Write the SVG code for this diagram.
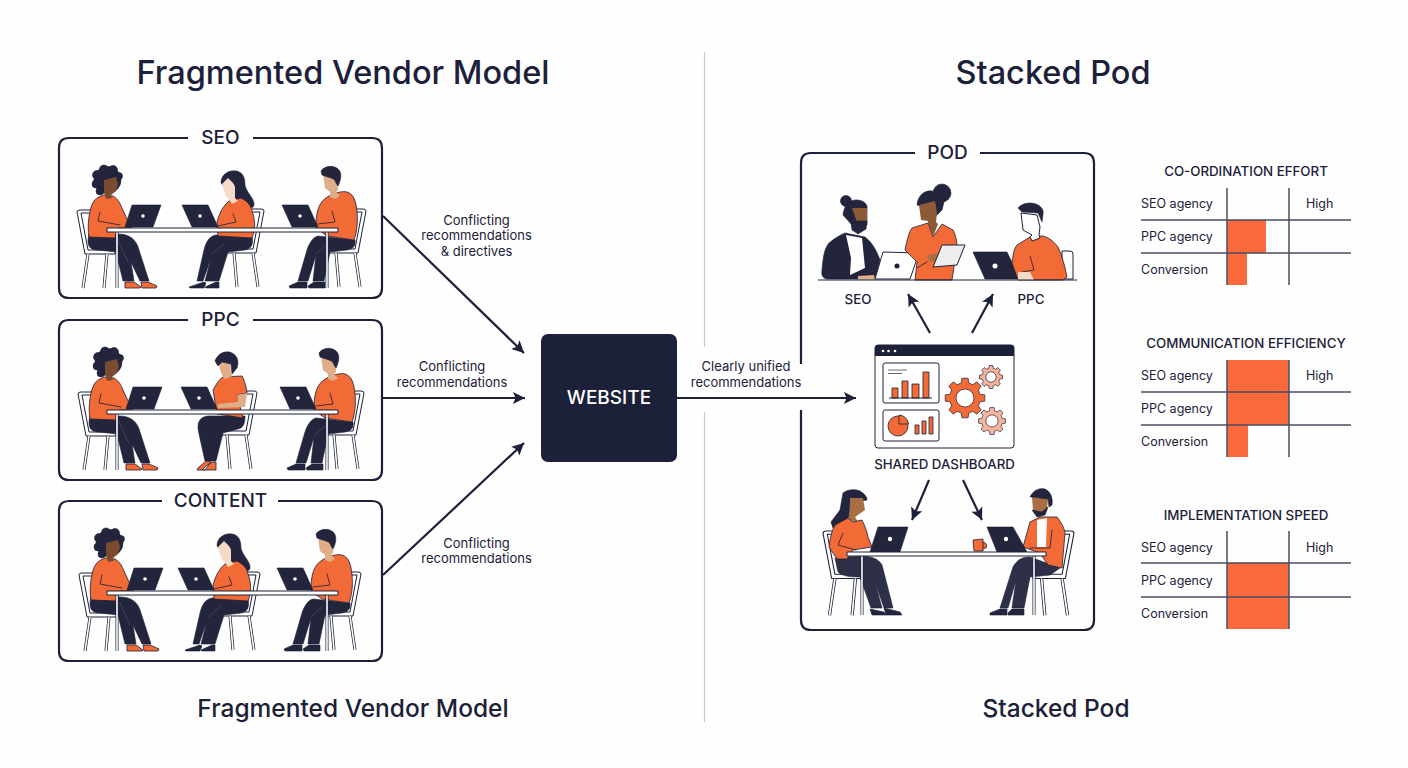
<svg xmlns="http://www.w3.org/2000/svg" width="1408" height="768" viewBox="0 0 1408 768">
<style>
text{font-family:"Inter","Liberation Sans",sans-serif;fill:#1c2038}
.t1{font-size:32.500px;font-weight:500;text-anchor:middle}
.t2{font-size:24.500px;font-weight:500;text-anchor:middle}
.pl{font-size:19px;font-weight:500;text-anchor:middle}
.cl{font-size:13px;text-anchor:middle}
.sl{font-size:13.300px;font-weight:500;text-anchor:middle}
.ct{font-size:13.300px;font-weight:500;text-anchor:middle}
.rl{font-size:12.500px}
.box{fill:none;stroke:#1c2038;stroke-width:2.200;stroke-linejoin:round}
.conn{fill:none;stroke:#1c2038;stroke-width:2.200}
.o{fill:#f26a35;stroke:#1c2038;stroke-width:.8;stroke-linejoin:round}
.d{fill:#22253c;stroke:#1c2038;stroke-width:.6;stroke-linejoin:round}
.w{fill:#fff;stroke:#1c2038;stroke-width:1;stroke-linejoin:round}
.ln{fill:none;stroke:#1c2038;stroke-width:.8;stroke-linecap:round;stroke-linejoin:round}
.sep{fill:none;stroke:#4c4f66;stroke-width:.7;stroke-linecap:round}
.brown{fill:#7b4b2f}
.mid{fill:#a86f45}
.dark{fill:#8d5a37}
.tan{fill:#dfae88}
.pale{fill:#f6dac8}
.leg{stroke:#1c2038;stroke-width:3;fill:none}
.legi{stroke:#fff;stroke-width:1.600;fill:none}
.grid{stroke:#4a4d60;stroke-width:1.500;fill:none}
.bar{fill:#fb6a3c}
</style>
<defs>
<marker id="ah" viewBox="0 0 14 14" refX="13" refY="7" markerWidth="14" markerHeight="14" markerUnits="userSpaceOnUse" orient="auto"><path d="M1,1 L13,7 L1,13 L3.500,7Z" fill="#1c2038"/></marker>
<g id="chair">
<path class="w" d="M0,2 Q0,0 3,0 L14,0 L14,3 L4,3 L11,40 L38,40 L38,44 L8,44Z"/>
<path class="leg" d="M11,44 L6,78 M30,44 L27,78"/><path class="legi" d="M11,44 L6,78 M30,44 L27,78"/>
</g>
<g id="laptopR"><path class="d" d="M7,0 L36,0 L28,22 L0,22Z"/><circle cx="18" cy="11" r="1.800" fill="#fff"/></g>
<g id="laptopL"><path class="d" d="M0,0 L26,0 L36,22 L10,22Z"/><circle cx="18" cy="11" r="1.800" fill="#fff"/></g>
<g id="table"><path class="leg" d="M117,232 V288 M327,232 V288"/><path class="legi" d="M117,232 V288 M327,232 V288"/><rect class="w" x="107" y="228" width="231" height="4"/></g>
<g id="personA">
<use href="#chair" transform="translate(77,210)"/>
<path class="d" d="M89,234 C86,246 90,250 98,250 L116,252 L123,281 L134,281 L131,262 L140,281 L149,281 L139,250 C136,238 128,234 118,234Z"/>
<path class="sep" d="M118,240 L128,262"/>
<path class="o" d="M125,282 L134,282 L141,287 L140,288 L125,288Z M141,282 L148,282 L157,286 L156,288 L142,288Z"/>
<path class="o" d="M89,237 C87,226 89,208 94,201 C97,197 101,196 104,195 L113,196 C118,199 120,203 122,208 L127,219 L133,224 L131,228 L118,228 L115,238Z"/>
<path class="ln" d="M100,212 L98,221 L120,225"/>
<circle class="d" cx="107.500" cy="180" r="13.500"/><circle class="d" cx="97" cy="175" r="4.500"/><circle class="d" cx="104" cy="169.500" r="4.500"/><circle class="d" cx="113" cy="170" r="4.500"/><circle class="d" cx="119" cy="176" r="3.500"/><circle class="d" cx="96" cy="184" r="4"/><circle class="d" cx="100" cy="191" r="4"/>
<path class="brown" d="M104,180 L116,177 L118,184 L116,191 L111,195 L112,198 L106,199 L104,192Z"/>
<use href="#laptopR" transform="translate(125,205)"/>
</g>
<g id="personB">
<use href="#chair" transform="translate(264,209) scale(-1,1)"/>
<path class="d" d="M216,235 L252,236 C254,246 250,249 245,250 L228,252 L219,281 L205,281 L211,258 L203,281 L197,281 L204,250 C206,241 210,236 216,235Z"/>
<path class="sep" d="M224,244 L212,254"/>
<path class="d" d="M204,282 L189,287 L190,288 L204,288 L206,283Z M216,282 L205,287 L206,288 L219,288 L219,282Z"/>
<path class="d" d="M221,183 C221,175 228,170 236,171 C243,172 245,178 245,185 C246,192 254,198 254,204 C254,209 250,208 247,206 C243,201 238,199 234,199Z"/>
<path class="o" d="M217,222 C219,215 222,207 229,201 L241,198 C247,201 251,205 252,211 C255,219 256,228 252,238 L218,236Z"/>
<path class="ln" d="M233,214 L236,222 L218,226"/>
<path class="pale" d="M222,184 L228,178 C232,182 235,184 235,188 L235,198 L238,201 L232,204 L229,199 C226,198 224,192 222,184Z"/>
<use href="#laptopL" transform="translate(182,205)"/>
</g>
<g id="personC">
<use href="#chair" transform="translate(366,209) scale(-1,1)"/>
<path class="d" d="M318,236 L355,240 C356,247 352,249 347,250 L330,252 L324,281 L313,281 L316,255 L308,281 L298,281 L307,250 C310,241 314,237 318,236Z"/>
<path class="sep" d="M327,244 L316,254"/>
<path class="d" d="M298,282 L289,286 L290,288 L307,288 L307,282Z M314,282 L308,286 L309,288 L325,288 L325,282Z"/>
<path class="o" d="M316,222 C317,208 320,200 331,195 C338,192 343,191 347,192 C354,194 356,202 357,212 C358,222 357,232 354,240 L327,236 L316,228Z"/>
<path class="ln" d="M332,211 L335,222 L318,224"/>
<path class="tan" d="M323,174 L336,178 L338,184 L338,190 L336,192 L340,196 L335,199 L330,197 L330,192 L325,188Z"/>
<path class="d" d="M321,171 C325,165 335,165 339,170 C342,174 341,180 338,186 L336,183 C335,178 330,178 325,176 L322,175Z"/>
<use href="#laptopL" transform="translate(282,205)"/>
</g>
<path id="gear" fill-rule="evenodd" d="M15.040,-3.750 L19.750,-3.130 L19.750,3.130 L15.040,3.750 L13.290,7.980 L16.180,11.750 L11.750,16.180 L7.980,13.290 L3.750,15.040 L3.130,19.750 L-3.130,19.750 L-3.750,15.040 L-7.980,13.290 L-11.750,16.180 L-16.180,11.750 L-13.290,7.980 L-15.040,3.750 L-19.750,3.130 L-19.750,-3.130 L-15.040,-3.750 L-13.290,-7.980 L-16.180,-11.750 L-11.750,-16.180 L-7.980,-13.290 L-3.750,-15.040 L-3.130,-19.750 L3.130,-19.750 L3.750,-15.040 L7.980,-13.290 L11.750,-16.180 L16.180,-11.750 L13.290,-7.980Z M9,0 A9,9 0 1 0 -9,0 A9,9 0 1 0 9,0Z"/>
</defs>
<rect width="1408" height="768" fill="#fefefe"/>
<g id="titles">
<text class="t1" x="343" y="84">Fragmented Vendor Model</text>
<text class="t1" x="1053" y="84">Stacked Pod</text>
<text class="t2" x="353" y="717">Fragmented Vendor Model</text>
<text class="t2" x="1056" y="717">Stacked Pod</text>
</g>
<g id="divider"><path d="M704.500,52 V347 M704.500,412 V722" stroke="#c9cace" stroke-width="1.200" fill="none"/></g>
<g id="panel-seo">
<path class="box" d="M188,138 H69 Q59,138 59,148 V288 Q59,298 69,298 H372 Q382,298 382,288 V148 Q382,138 372,138 H253"/>
<text class="pl" x="220.500" y="144">SEO</text>
<use href="#personA"/><use href="#personB"/><use href="#personC"/><use href="#table"/>
</g>
<g id="panel-ppc">
<path class="box" d="M188,320 H69 Q59,320 59,330 V470 Q59,480 69,480 H372 Q382,480 382,470 V330 Q382,320 372,320 H253"/>
<text class="pl" x="220.500" y="326">PPC</text>
<use href="#personA" transform="translate(1,182)"/>
<use href="#chair" transform="translate(257,391) scale(-1,1)"/>
<path class="d" d="M245,416 C245,424 243,428 238,429 L223,433 L216,461 L205,461 L199,434 C196,422 200,417 208,416Z"/>
<path class="o" d="M206,461 L198,468 L197,470 L205,470 L211,462Z M212,462 L216,462 L216,470 L202,470 L206,466Z"/>
<path class="o" d="M213,390 C216,385 219,379 223,377 L242,376 C245,381 246,387 247,393 L237,395 L243,418 L217,414Z"/>
<path class="tan" d="M237,395 L247,393 L245,407 L218,408 L218,404 L238,402Z"/>
<path class="tan" d="M219,362 L230,360 L231,374 L233,376 L225,379 L223,377 L220,370Z"/>
<path class="d" d="M215,361 C218,353 226,350 232,353 C238,356 239,362 237,368 L232,374 L231,364 L222,362 L218,366Z"/>
<use href="#laptopL" transform="translate(181,387)"/>
<use href="#personC" transform="translate(-2,182)"/>
<use href="#table" transform="translate(0,182)"/>
</g>
<g id="panel-content">
<path class="box" d="M162,501 H69 Q59,501 59,511 V651 Q59,661 69,661 H372 Q382,661 382,651 V511 Q382,501 372,501 H278"/>
<text class="pl" x="220.500" y="507">CONTENT</text>
<use href="#personA" transform="translate(2,363)"/>
<use href="#personB" transform="translate(-4,363)"/>
<use href="#personC" transform="translate(-5,363)"/>
<use href="#table" transform="translate(0,363)"/>
</g>
<g id="connectors">
<path class="conn" marker-end="url(#ah)" d="M383,216 L524,353"/>
<path class="conn" marker-end="url(#ah)" d="M383,398 L525,398"/>
<path class="conn" marker-end="url(#ah)" d="M383,575 L524,443"/>
<path class="conn" marker-end="url(#ah)" d="M677,398 L856,398"/>
<path class="conn" marker-end="url(#ah)" d="M930,333 L908,294"/>
<path class="conn" marker-end="url(#ah)" d="M972,333 L993,294"/>
<path class="conn" marker-end="url(#ah)" d="M929,480 L912,520"/>
<path class="conn" marker-end="url(#ah)" d="M963,480 L982,520"/>
</g>
<g id="connector-labels">
<text class="cl" x="476.500" y="224.500">Conflicting</text><text class="cl" x="476.500" y="240">recommendations</text><text class="cl" x="476.500" y="255.500">&amp; directives</text>
<text class="cl" x="452" y="371">Conflicting</text><text class="cl" x="452" y="386.500">recommendations</text>
<text class="cl" x="476.500" y="547.500">Conflicting</text><text class="cl" x="476.500" y="563">recommendations</text>
<text class="cl" x="746" y="371">Clearly unified</text><text class="cl" x="746" y="386.500">recommendations</text>
</g>
<g id="website">
<rect x="541" y="334" width="136" height="128" rx="7" fill="#1c2038"/>
<text x="609" y="404" text-anchor="middle" font-size="19" font-weight="500" style="fill:#fff">WEBSITE</text>
</g>
<g id="pod">
<path class="box" d="M915,153 H811 Q801,153 801,163 V364 M801,410 V620 Q801,630 811,630 H1084 Q1094,630 1094,620 V163 Q1094,153 1084,153 H980"/>
<text class="pl" x="947.500" y="159">POD</text>
</g>
<g id="pod-top-team">
<path class="w" d="M1062,251 L1070,251 Q1073,251 1073,254 V279 H1062Z"/>
<circle class="d" cx="846" cy="201" r="5.500"/>
<path class="d" d="M843,215 C844,205 850,199 858,200 C865,201 868,205 867,210 L867,225 L852,225Z"/>
<path class="dark" d="M852,208 L867,208 L867,222 L857,222Z"/>
<path class="d" d="M850,216 L855,221 L867,221 L866,229 L858,234 L852,230Z"/>
<path class="d" d="M822,270 C823,258 824,249 829,243 C835,238 840,235 845,233 L865,237 C873,243 877,252 880,260 L875,279 L828,279 C823,279 821,275 822,270Z"/>
<path d="M846,235 L862,238 L865,268 L850,275 L851,258Z" fill="#fff"/>
<path class="tan" d="M858,276 L874,275 L875,279 L858,279Z"/>
<path class="w" d="M883,252 L919,253 L910,279 L875,279Z"/>
<circle cx="897" cy="266" r="2.500" fill="#1c2038"/>
<circle class="d" cx="942" cy="193" r="9"/>
<path class="d" d="M917,205 C918,195 925,190 932,191 L945,198 L942,210 L936,216 L935,203 L921,206Z"/>
<path class="o" d="M905,250 C907,240 909,232 912,228 L928,223 L933,237 L942,224 L953,230 C956,236 957,241 957,247 L952,280 L915,280 L917,262Z"/>
<path class="dark" d="M919,205 L935,201 L937,213 L936,222 L938,224 L933,237 L928,223 L928,221 L921,220Z"/>
<path class="ln" d="M917,268 L927,262"/>
<path class="mid" d="M927,256 L941,252 L943,259 L930,262Z"/>
<path class="w" d="M942,245 L965,245 L957,265 L933,267Z" style="fill:#eceded"/>
<path class="d" d="M973,252 L1007,252 L1020,279 L985,279Z"/>
<circle cx="995" cy="266" r="2.500" fill="#fff"/>
<path class="o" d="M1012,263 C1013,254 1014,249 1017,245 L1030,237 L1043,236 C1050,238 1055,243 1058,247 C1062,256 1065,266 1067,277 L1063,280 L1018,280Z"/>
<path class="ln" d="M1030,256 L1034,270 L1022,272"/>
<path class="w" d="M1021,213 L1037,215 L1040,227 L1039,235 L1040,238 L1032,241 L1030,237 L1032,235 L1023,230Z"/>
<path class="d" d="M1018,208 C1022,203 1030,202 1036,204 C1041,206 1044,210 1043,214 L1042,222 L1038,213 L1022,212Z"/>
<path class="pale" d="M1018,272 L1030,272 L1034,280 L1018,280Z"/>
<path d="M818,280 H1077" stroke="#1c2038" stroke-width="1.200" fill="none"/>
<text class="sl" x="858" y="304">SEO</text>
<text class="sl" x="1031" y="304">PPC</text>
</g>
<g id="shared-dashboard">
<rect class="w" x="875" y="345" width="139" height="103" rx="3"/>
<path d="M875,356 V348 Q875,345 878,345 H1011 Q1014,345 1014,348 V356Z" fill="#1c2038"/>
<circle cx="883" cy="351" r="1.300" fill="#fff"/><circle cx="888.500" cy="351" r="1.300" fill="#fff"/><circle cx="895" cy="351" r="1.300" fill="#fff"/>
<rect class="w" x="883" y="363" width="56" height="40" rx="2"/>
<path d="M888,370 H907 M888,373.500 H902" stroke="#6a6d7c" stroke-width="1" fill="none"/>
<g class="o"><rect x="892" y="388" width="6" height="10"/><rect x="902" y="381" width="6" height="17"/><rect x="912" y="384" width="7" height="14"/><rect x="923" y="372" width="6" height="26"/></g>
<path d="M889,398 H932" stroke="#1c2038" fill="none"/>
<rect class="w" x="883" y="410" width="56" height="31" rx="2"/>
<circle class="o" cx="898" cy="426" r="10"/>
<path class="o" d="M899,415 A10,10 0 0 1 908.500,424 L899,424Z"/>
<g class="o"><rect x="915" y="425" width="4" height="9"/><rect x="922" y="421" width="4" height="13"/><rect x="929" y="417" width="4" height="17"/></g>
<use href="#gear" transform="translate(965,398)" fill="#f26a35" stroke="#1c2038" stroke-width=".7"/>
<use href="#gear" transform="translate(991,377) scale(.58)" fill="#f7b49a" stroke="#1c2038" stroke-width="1.200"/>
<use href="#gear" transform="translate(992,421) scale(.68)" fill="#f7b49a" stroke="#1c2038" stroke-width="1"/>
<text class="sl" x="944.500" y="469">SHARED DASHBOARD</text>
</g>
<g id="pod-bottom-team">
<use href="#chair" transform="translate(823,531) scale(1.080)"/>
<use href="#chair" transform="translate(1074,531) scale(-1.080,1.080)"/>
<path class="d" d="M835,558 L838,572 C842,576 850,577 860,577 L871,608 L882,608 L875,582 L884,608 L893,608 L882,565 C878,558 870,556 860,556Z" style="fill:#2d3047"/>
<path class="d" d="M870,609 L884,612 L886,615 L872,615Z M884,608 L900,612 L902,615 L886,615Z"/>
<path class="d" d="M843,493 C848,489 855,489 860,491 C865,494 867,497 867,500 L850,503 L849,517 L833,528 L831,522 L840,510Z"/>
<path class="mid" d="M850,498 L863,498 L865,510 L855,517 L858,522 L848,520 L850,510Z"/>
<path class="o" d="M829,547 C830,538 832,530 835,525 L848,518 L853,522 L862,520 C865,526 867,532 868,537 L872,547 L853,550 L847,559 L837,559Z"/>
<path class="ln" d="M843,533 L838,545 L856,550"/>
<path class="d" d="M878,527 L908,527 L900,552 L870,552Z"/>
<circle cx="890" cy="539" r="2.200" fill="#fff"/>
<path class="o" d="M973,540 L983,539 L983,551 L974,551Z M983,542 Q988,543 986,548 L983,549"/>
<path class="d" d="M1060,568 L1050,575 L1030,577 L1024,608 L1012,608 L1016,580 L1008,608 L1000,608 L1013,567 C1018,558 1024,557 1030,557Z" style="fill:#2d3047"/>
<path class="d" d="M1000,609 L990,613 L990,615 L1007,615 L1007,609Z M1012,609 L1008,613 L1008,615 L1024,615 L1024,609Z"/>
<path class="o" d="M1023,547 L1030,522 L1040,517 L1057,517 C1061,522 1064,527 1065,533 L1062,568 L1048,565 L1040,553Z"/>
<path d="M1037,520 L1047,518 L1046,547 L1037,547Z" fill="#fff"/>
<path class="ln" d="M1052,530 L1050,548 L1030,548"/>
<path class="mid" d="M1032,497 L1048,498 L1047,510 L1040,517 L1033,510Z"/>
<path class="d" d="M1032,510 L1042,512 L1048,507 L1045,515 L1037,517Z"/>
<path class="d" d="M1030,497 C1034,489 1040,488 1045,489 C1051,492 1053,498 1052,505 L1049,507 L1048,499 L1032,497Z"/>
<path class="d" d="M987,527 L1013,527 L1027,552 L997,552Z"/>
<circle cx="1006" cy="539" r="2.200" fill="#fff"/>
<path class="leg" d="M862,556 V615 M1034,556 V615"/><path class="legi" d="M862,556 V615 M1034,556 V615"/>
<rect class="w" x="847" y="552" width="199" height="4"/>
</g>
<g id="chart-coordination">
<rect class="bar" x="1227" y="220" width="39" height="33"/><rect class="bar" x="1227" y="253" width="20" height="32"/>
<path class="grid" d="M1227,188 V285 M1289,188 V285 M1141,220 H1351 M1141,253 H1351"/>
<text class="ct" x="1246" y="176">CO-ORDINATION EFFORT</text>
<text class="rl" x="1141" y="208">SEO agency</text><text class="rl" x="1141" y="241">PPC agency</text><text class="rl" x="1141" y="274">Conversion</text><text class="rl" x="1306" y="208">High</text>
</g>
<g id="chart-communication">
<rect class="bar" x="1227" y="360" width="62" height="65"/><rect class="bar" x="1227" y="425" width="21" height="32"/>
<path class="grid" d="M1227,360 V457 M1289,360 V457 M1141,392 H1351 M1141,425 H1351"/>
<text class="ct" x="1246" y="348">COMMUNICATION EFFICIENCY</text>
<text class="rl" x="1141" y="380">SEO agency</text><text class="rl" x="1141" y="413">PPC agency</text><text class="rl" x="1141" y="446">Conversion</text><text class="rl" x="1306" y="380">High</text>
</g>
<g id="chart-implementation">
<rect class="bar" x="1227" y="563" width="62" height="66"/>
<path class="grid" d="M1227,531 V629 M1289,531 V629 M1141,563 H1351 M1141,597 H1351"/>
<text class="ct" x="1246" y="520">IMPLEMENTATION SPEED</text>
<text class="rl" x="1141" y="552">SEO agency</text><text class="rl" x="1141" y="585">PPC agency</text><text class="rl" x="1141" y="618">Conversion</text><text class="rl" x="1306" y="552">High</text>
</g>
</svg>
